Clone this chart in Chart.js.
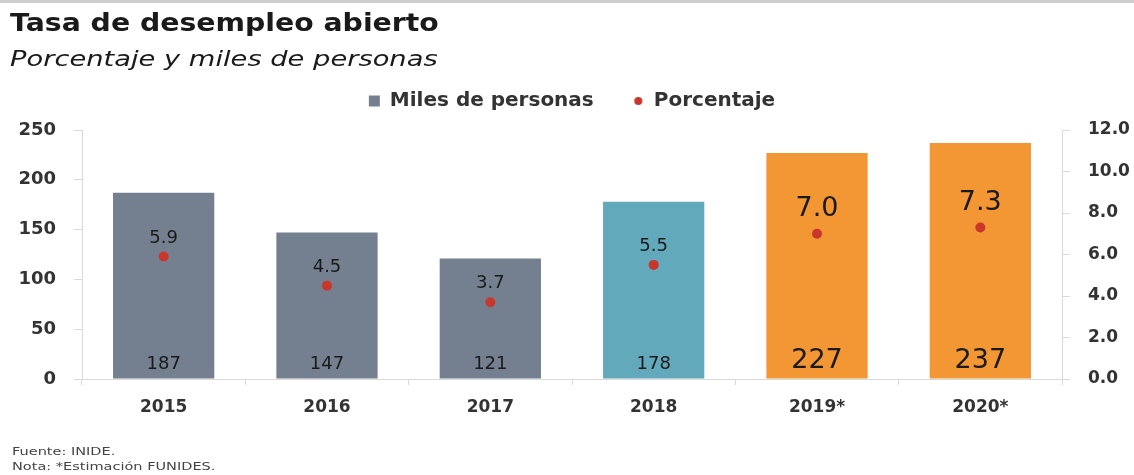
<!DOCTYPE html>
<html>
<head>
<meta charset="utf-8">
<script src="https://cdn.jsdelivr.net/npm/chart.js@4.4.1/dist/chart.umd.min.js"></script>
<style>
  html, body { margin: 0; padding: 0; background: #fff; }
  #wrap { width: 1134px; height: 475px; border-top: 3px solid #cfcfcf; box-sizing: border-box; }
  canvas { display: block; }
  .txt { position: absolute; left: 10px; white-space: nowrap; line-height: 1; color: #1a1a1a;
         font-family: 'DejaVu Sans', sans-serif; transform-origin: 0 0; }
  #titulo { top: 11px; font-size: 24px; font-weight: bold; transform: scaleX(1.18); }
  #subtitulo { top: 49px; font-size: 21px; font-style: italic; transform: scaleX(1.3); }
  .nota { left: 12px; font-size: 10px; color: #444; transform: scaleX(1.45); }
</style>
</head>
<body>
<div id="wrap"><canvas id="Chart" width="1134" height="472"></canvas></div>
<div class="txt" id="titulo">Tasa de desempleo abierto</div>
<div class="txt" id="subtitulo">Porcentaje y miles de personas</div>
<div class="txt nota" style="top:447px">Fuente: INIDE.</div>
<div class="txt nota" style="top:462px">Nota: *Estimación FUNIDES.</div>
<script>
const years = ["2015", "2016", "2017", "2018", "2019*", "2020*"];
const miles = [187, 147, 121, 178, 227, 237];
const porcentaje = [5.9, 4.5, 3.7, 5.5, 7.0, 7.3];
const barColors = ["#74808f", "#74808f", "#74808f", "#63a9bc", "#f39634", "#f39634"];
const leftTicks = [0, 50, 100, 150, 200, 250];
const rightTicks = [0, 2, 4, 6, 8, 10, 12];

const FONT = "'DejaVu Sans', sans-serif";

// small red dot for the legend
const dot = document.createElement("canvas");
dot.width = 10;
dot.height = 10;
const dctx = dot.getContext("2d");
dctx.fillStyle = "#c9372c";
dctx.beginPath();
dctx.arc(5, 5, 4, 0, Math.PI * 2);
dctx.fill();

// extra room between legend and plot
const legendGap = {
  id: "legendGap",
  beforeInit(chart) {
    const fit = chart.legend.fit;
    chart.legend.fit = function () {
      fit.call(this);
      this.height += 9;
    };
  },
};

const valueLabels = {
  id: "valueLabels",
  afterDatasetsDraw(chart) {
    const { ctx } = chart;
    ctx.save();
    ctx.textAlign = "center";
    ctx.textBaseline = "alphabetic";
    ctx.fillStyle = "#1a1a1a";
    const bars = chart.getDatasetMeta(0).data;
    const pts = chart.getDatasetMeta(1).data;
    bars.forEach((bar, i) => {
      const big = i >= 4;
      ctx.font = (big ? "27px " : "18px ") + FONT;
      ctx.fillText(String(miles[i]), bar.x, bar.base - (big ? 11 : 10));
    });
    pts.forEach((p, i) => {
      const big = i >= 4;
      ctx.font = (big ? "27px " : "18px ") + FONT;
      ctx.fillText(porcentaje[i].toFixed(1), p.x, p.y - (big ? 18 : 14));
    });
    ctx.restore();
  },
};

new Chart(document.getElementById("Chart"), {
  data: {
    labels: years,
    datasets: [
      {
        type: "bar",
        label: "Miles de personas",
        data: miles,
        backgroundColor: barColors,
        barPercentage: 0.62,
        categoryPercentage: 1,
        yAxisID: "y",
        order: 2,
      },
      {
        type: "line",
        label: "Porcentaje",
        data: porcentaje,
        showLine: false,
        pointRadius: 5,
        pointBackgroundColor: "#c9372c",
        pointBorderWidth: 0,
        yAxisID: "y1",
        order: 1,
      },
    ],
  },
  options: {
    responsive: false,
    animation: false,
    layout: { padding: { left: 10, right: 0, top: 49, bottom: 50 } },
    plugins: {
      tooltip: { enabled: false },
      legend: {
        display: true,
        labels: {
          usePointStyle: true,
          boxHeight: 11,
          boxWidth: 11,
          padding: 39,
          color: "#333",
          font: { family: FONT, size: 20, weight: "bold" },
          generateLabels(chart) {
            const items = Chart.defaults.plugins.legend.labels.generateLabels(chart);
            items.forEach((it) => {
              if (it.datasetIndex === 0) {
                it.pointStyle = "rect";
                it.fillStyle = "#74808f";
                it.strokeStyle = "#74808f";
                it.lineWidth = 0;
              } else {
                it.pointStyle = dot;
              }
            });
            return items;
          },
          sort: (a, b) => a.datasetIndex - b.datasetIndex,
        },
      },
    },
    scales: {
      x: {
        grid: { drawOnChartArea: false, color: "#d9d9d9", tickLength: 6 },
        border: { color: "#d9d9d9" },
        ticks: { color: "#333", padding: 12, font: { family: FONT, size: 17, weight: "bold" } },
        afterFit(scale) { scale.height = 46; },
      },
      y: {
        position: "left",
        min: 0,
        max: 250,
        afterBuildTicks(scale) { scale.ticks = leftTicks.map((v) => ({ value: v })); },
        grid: { drawOnChartArea: false, color: "#d9d9d9", tickLength: 8 },
        border: { color: "#d9d9d9" },
        ticks: { color: "#333", padding: 18, font: { family: FONT, size: 18, weight: "bold" } },
        afterFit(scale) { scale.width = 72; },
      },
      y1: {
        position: "right",
        min: 0,
        max: 12,
        afterBuildTicks(scale) { scale.ticks = rightTicks.map((v) => ({ value: v })); },
        grid: { drawOnChartArea: false, color: "#d9d9d9", tickLength: 8 },
        border: { color: "#d9d9d9" },
        ticks: {
          color: "#333",
          padding: 18,
          font: { family: FONT, size: 17, weight: "bold" },
          callback: (v) => Number(v).toFixed(1),
        },
        afterFit(scale) { scale.width = 72; },
      },
    },
  },
  plugins: [legendGap, valueLabels],
});
</script>
</body>
</html>
